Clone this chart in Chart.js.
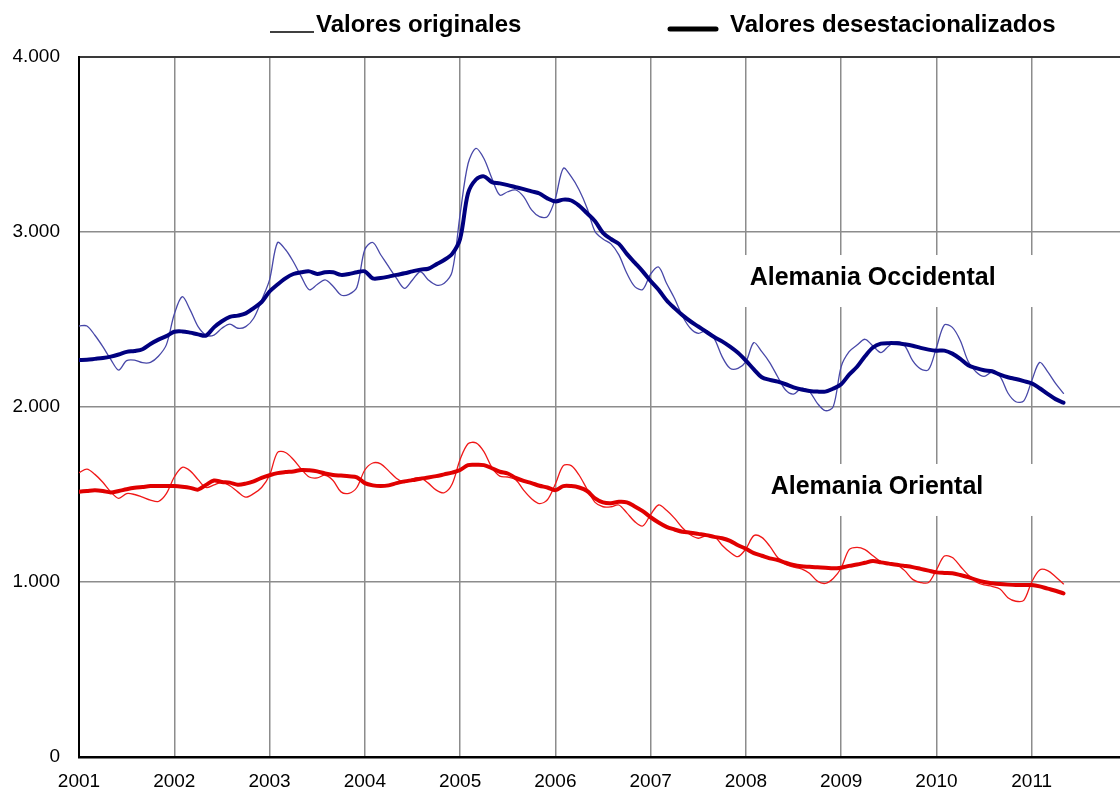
<!DOCTYPE html>
<html lang="es">
<head>
<meta charset="utf-8">
<title>Alemania Occidental y Oriental</title>
<script src="https://cdn.jsdelivr.net/npm/chart.js@4.4.1/dist/chart.umd.min.js"></script>
<style>
    html, body { margin: 0; padding: 0; background: #fff; overflow: hidden; }
    #wrap { width: 1140px; height: 792px; }
</style>
</head>
<body>
<div id="wrap"><canvas id="grafico" width="1140" height="792"></canvas></div>
<script>
// Datos mensuales, enero 2001 - mayo 2011
const anioInicio = 2001;
const aniosEje = [2001, 2012];
const ticksY = [0, 1000, 2000, 3000, 4000];

const occidentalOriginal = [
    2463, 2463, 2410, 2345, 2272, 2211, 2265, 2268, 2253, 2255, 2290, 2355,
    2530, 2630, 2555, 2459, 2411, 2411, 2450, 2474, 2450, 2459, 2507, 2611,
    2726, 2939, 2900, 2830, 2745, 2670, 2700, 2726, 2690, 2640, 2644, 2684,
    2900, 2940, 2870, 2802, 2735, 2678, 2726, 2773, 2726, 2697, 2707, 2773,
    3100, 3390, 3478, 3420, 3307, 3211, 3230, 3240, 3202, 3126, 3088, 3088,
    3192, 3364, 3316, 3240, 3136, 3002, 2960, 2932, 2869, 2764, 2688, 2672,
    2760, 2800, 2707, 2621, 2520, 2450, 2421, 2436, 2392, 2288, 2221, 2221,
    2259, 2368, 2316, 2254, 2173, 2097, 2074, 2107, 2088, 2021, 1979, 2002,
    2231, 2316, 2354, 2387, 2349, 2311, 2349, 2373, 2350, 2265, 2218, 2213,
    2340, 2469, 2455, 2380, 2260, 2200, 2175, 2200, 2175, 2080, 2030, 2035,
    2150, 2255, 2202, 2135, 2078
];
const occidentalDesest = [
    2269, 2270, 2275, 2280, 2288, 2300, 2315, 2320, 2330, 2360, 2385, 2405,
    2430, 2432, 2425, 2415, 2408, 2455, 2490, 2515, 2522, 2535, 2565, 2600,
    2660, 2700, 2735, 2760, 2770, 2775, 2760, 2770, 2770, 2755, 2760, 2770,
    2775, 2735, 2737, 2745, 2755, 2764, 2775, 2785, 2790, 2815, 2840, 2875,
    2960, 3221, 3300, 3318, 3285, 3278, 3268, 3256, 3245, 3232, 3220, 3192,
    3175, 3185, 3180, 3150, 3107, 3062, 2995, 2960, 2932, 2875, 2825, 2775,
    2720, 2670, 2610, 2565, 2525, 2490, 2460, 2430, 2400, 2375, 2345, 2310,
    2265, 2215, 2170, 2155, 2145, 2130, 2112, 2100, 2092, 2088, 2088, 2105,
    2130, 2185, 2230, 2290, 2340, 2362, 2365, 2364, 2358, 2350, 2338, 2328,
    2322, 2322, 2305, 2275, 2238, 2222, 2210, 2204, 2185, 2170, 2160, 2148,
    2135, 2107, 2075, 2045, 2025
];
const orientalOriginal = [
    1625, 1645, 1615, 1570, 1515, 1478, 1505, 1500, 1485, 1468, 1460, 1505,
    1600, 1655, 1635, 1585, 1540, 1555, 1570, 1550, 1515, 1485, 1505, 1540,
    1610, 1740, 1740, 1700, 1645, 1600, 1595, 1610, 1580, 1515, 1507, 1540,
    1640, 1680, 1675, 1635, 1592, 1568, 1590, 1595, 1565, 1525, 1510, 1560,
    1700, 1790, 1795, 1745, 1655, 1605, 1600, 1585, 1525, 1476, 1448, 1470,
    1560, 1665, 1665, 1610, 1530, 1455, 1430, 1430, 1440, 1395, 1345, 1320,
    1385, 1440, 1410, 1365, 1310, 1270, 1250, 1265, 1262, 1210, 1170, 1145,
    1190, 1265, 1255, 1205, 1140, 1100, 1085, 1075, 1050, 1005, 992, 1020,
    1080, 1185, 1198, 1185, 1150, 1115, 1103, 1098, 1065, 1015, 997, 997,
    1070, 1148, 1140, 1090, 1040, 1000, 983, 975, 960, 910, 890, 895,
    1000, 1069, 1065, 1030, 989
];
const orientalDesest = [
    1516, 1520, 1524, 1520, 1512, 1520, 1530, 1538, 1543, 1548, 1549, 1549,
    1548, 1544, 1538, 1528, 1555, 1580, 1572, 1568, 1556, 1562, 1575, 1595,
    1610, 1622, 1628, 1632, 1640, 1638, 1632, 1620, 1612, 1608, 1604, 1598,
    1565, 1552, 1548, 1552, 1565, 1575, 1582, 1590, 1597, 1605, 1615, 1625,
    1640, 1668, 1670, 1668, 1650, 1630, 1620, 1595, 1578, 1565, 1550, 1540,
    1525, 1548, 1548, 1540, 1520, 1478, 1455, 1450, 1458, 1455, 1432, 1405,
    1370, 1340, 1315, 1300, 1287, 1282, 1275, 1268, 1258, 1250, 1235, 1210,
    1190, 1165, 1150, 1135, 1126, 1110, 1097, 1090, 1087, 1084, 1082, 1078,
    1082, 1092, 1100, 1110, 1120, 1112, 1105, 1098, 1092, 1085, 1075, 1065,
    1055, 1052, 1050, 1040, 1028, 1012, 1000, 993, 988, 985, 983, 983,
    983, 975, 962, 950, 935
];

const fuente = '"Liberation Sans", Arial, sans-serif';

// convierte la serie mensual en puntos {x: año decimal, y: valor}
function aPuntos(serie) {
    return serie.map((v, i) => ({ x: anioInicio + i / 12, y: v }));
}

// --- Etiquetas dentro del gráfico (con fondo blanco) ---
const etiquetas = [
    { texto: 'Alemania Occidental', x: 2008.04, y: 2697, ancho: 298 },
    { texto: 'Alemania Oriental', x: 2008.26, y: 1503, ancho: 275 }
];

const pluginEtiquetas = {
    id: 'etiquetas',
    beforeDatasetsDraw(chart) {
        const { ctx, scales } = chart;
        ctx.save();
        ctx.font = 'bold 25px ' + fuente;
        ctx.textBaseline = 'alphabetic';
        etiquetas.forEach(e => {
            const px = scales.x.getPixelForValue(e.x);
            const py = scales.y.getPixelForValue(e.y);
            ctx.fillStyle = '#fff';
            ctx.fillRect(px - 8, py - 30, e.ancho, 52);
            ctx.fillStyle = '#000';
            ctx.fillText(e.texto, px, py);
        });
        ctx.restore();
    }
};

// --- Leyenda superior ---
const pluginLeyenda = {
    id: 'leyenda',
    afterDraw(chart) {
        const ctx = chart.ctx;
        ctx.save();
        ctx.strokeStyle = '#000';
        ctx.lineWidth = 1.5;
        ctx.beginPath();
        ctx.moveTo(270, 32);
        ctx.lineTo(314, 32);
        ctx.stroke();
        ctx.lineWidth = 5;
        ctx.lineCap = 'round';
        ctx.beginPath();
        ctx.moveTo(670, 29);
        ctx.lineTo(716, 29);
        ctx.stroke();
        ctx.fillStyle = '#000';
        ctx.font = 'bold 24px ' + fuente;
        ctx.textBaseline = 'alphabetic';
        ctx.fillText('Valores originales', 316, 32);
        ctx.fillText('Valores desestacionalizados', 730, 32);
        ctx.restore();
    }
};

const ctx = document.getElementById('grafico').getContext('2d');
new Chart(ctx, {
    type: 'line',
    data: {
        datasets: [
            { label: 'Alemania Occidental (desestacionalizados)', data: aPuntos(occidentalDesest),
              borderColor: '#00007f', borderWidth: 4, order: 1 },
            { label: 'Alemania Oriental (desestacionalizados)', data: aPuntos(orientalDesest),
              borderColor: '#e00000', borderWidth: 4, order: 1 },
            { label: 'Alemania Occidental (originales)', data: aPuntos(occidentalOriginal),
              borderColor: '#4848a8', borderWidth: 1.3, order: 2 },
            { label: 'Alemania Oriental (originales)', data: aPuntos(orientalOriginal),
              borderColor: '#f01818', borderWidth: 1.3, order: 2 }
        ]
    },
    options: {
        responsive: false,
        animation: false,
        devicePixelRatio: 1,
        elements: {
            point: { radius: 0 },
            line: { tension: 0.32, fill: false, borderCapStyle: 'round', borderJoinStyle: 'round' }
        },
        layout: { padding: { top: 57, right: 9.5, left: 0, bottom: 0 } },
        plugins: {
            legend: { display: false },
            tooltip: { enabled: false }
        },
        scales: {
            x: {
                type: 'linear',
                min: aniosEje[0],
                max: aniosEje[1],
                afterFit: s => { s.height = 35; },
                ticks: {
                    stepSize: 1,
                    padding: 13,
                    color: '#000',
                    maxRotation: 0,
                    autoSkip: false,
                    font: { family: fuente, size: 19 },
                    callback: v => (v === aniosEje[1] ? '' : String(v))
                },
                grid: { color: '#8c8c8c', lineWidth: 1.5, drawTicks: false },
                border: { color: '#000', width: 2.5 }
            },
            y: {
                min: ticksY[0],
                max: ticksY[ticksY.length - 1],
                afterFit: s => { s.width = 79; },
                afterBuildTicks: s => { s.ticks = ticksY.map(v => ({ value: v })); },
                ticks: {
                    padding: 19,
                    color: '#000',
                    font: { family: fuente, size: 19 },
                    callback: v => (v === 0 ? '0' : (v / 1000) + '.000')
                },
                grid: {
                    color: c => (c.tick && c.tick.value === 4000 ? '#3a3a3a' : '#8c8c8c'),
                    lineWidth: c => (c.tick && c.tick.value === 4000 ? 2 : 1.5),
                    drawTicks: false
                },
                border: { color: '#000', width: 2 }
            }
        }
    },
    plugins: [pluginEtiquetas, pluginLeyenda]
});
</script>
</body>
</html>
